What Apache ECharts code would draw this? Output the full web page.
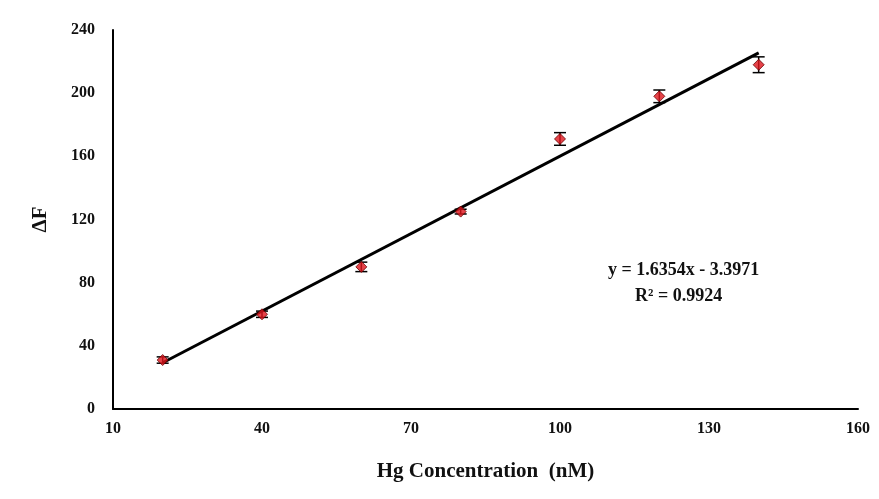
<!DOCTYPE html>
<html>
<head>
<meta charset="utf-8">
<script src="https://cdn.jsdelivr.net/npm/echarts@6/dist/echarts.min.js"></script>
<style>html,body{margin:0;padding:0;background:#fff}#container{width:879px;height:499px}</style>
</head>
<body>
<div id="container"></div>
<script>
var concentrations = [20, 40, 60, 80, 100, 120, 140];
var deltaF = [31, 60, 90, 125, 171, 198, 218];
var errors = [2, 2, 3, 1.5, 4, 4, 5];
var slope = 1.6354, intercept = -3.3971;
var xTicks = [10, 40, 70, 100, 130, 160];

document.addEventListener('DOMContentLoaded', function () {
    var myChart = echarts.init(document.getElementById('container'));
    var font = 'Liberation Serif';
    var points = concentrations.map(function (x, i) { return [x, deltaF[i]]; });
    var bars = concentrations.map(function (x, i) { return [x, deltaF[i] - errors[i], deltaF[i] + errors[i]]; });
    var x0 = concentrations[0], x1 = concentrations[concentrations.length - 1];
    var fit = [[x0, slope * x0 + intercept], [x1, slope * x1 + intercept]];

    var option = {
        animation: false,
        grid: { left: 113, right: 21, top: 30, bottom: 90 },
        xAxis: {
            type: 'value', min: xTicks[0], max: xTicks[xTicks.length - 1], interval: 30,
            name: 'Hg Concentration  (nM)', nameLocation: 'middle', nameGap: 52,
            nameTextStyle: { fontFamily: font, fontWeight: 'bold', fontSize: 21, color: '#111' },
            axisLine: { lineStyle: { color: '#000', width: 2 } },
            axisTick: { show: false },
            splitLine: { show: false },
            axisLabel: { fontFamily: font, fontWeight: 'bold', fontSize: 16, color: '#111', margin: 12 }
        },
        yAxis: {
            type: 'value', min: 0, max: 240, interval: 40,
            name: 'ΔF', nameLocation: 'middle', nameGap: 62, nameRotate: 90,
            nameTextStyle: { fontFamily: font, fontWeight: 'bold', fontSize: 21, color: '#111' },
            axisLine: { show: true, lineStyle: { color: '#000', width: 2 } },
            axisTick: { show: false },
            splitLine: { show: false },
            axisLabel: { fontFamily: font, fontWeight: 'bold', fontSize: 16, color: '#111', margin: 18 }
        },
        series: [
            {
                type: 'line', data: fit, symbol: 'none',
                lineStyle: { color: '#000', width: 3 }, z: 2
            },
            {
                type: 'custom', z: 3,
                renderItem: function (params, api) {
                    var lo = api.coord([api.value(0), api.value(1)]);
                    var hi = api.coord([api.value(0), api.value(2)]);
                    var w = 6;
                    var st = { stroke: '#000', lineWidth: 1.5 };
                    return { type: 'group', children: [
                        { type: 'line', shape: { x1: lo[0], y1: lo[1], x2: hi[0], y2: hi[1] }, style: st },
                        { type: 'line', shape: { x1: lo[0] - w, y1: lo[1], x2: lo[0] + w, y2: lo[1] }, style: st },
                        { type: 'line', shape: { x1: hi[0] - w, y1: hi[1], x2: hi[0] + w, y2: hi[1] }, style: st }
                    ] };
                },
                data: bars
            },
            {
                type: 'scatter', data: points, symbol: 'diamond', symbolSize: 11, z: 4,
                itemStyle: { color: '#e0141b', borderColor: '#600', borderWidth: 1 }
            }
        ],
        graphic: [{
            type: 'text', left: 608, top: 257,
            style: {
                text: 'y = 1.6354x - 3.3971\n      R² = 0.9924',
                font: 'bold 18px "Liberation Serif"', fill: '#111', lineHeight: 26
            }
        }]
    };

    myChart.setOption(option);
    window.addEventListener('resize', myChart.resize);
});
</script>
</body>
</html>
